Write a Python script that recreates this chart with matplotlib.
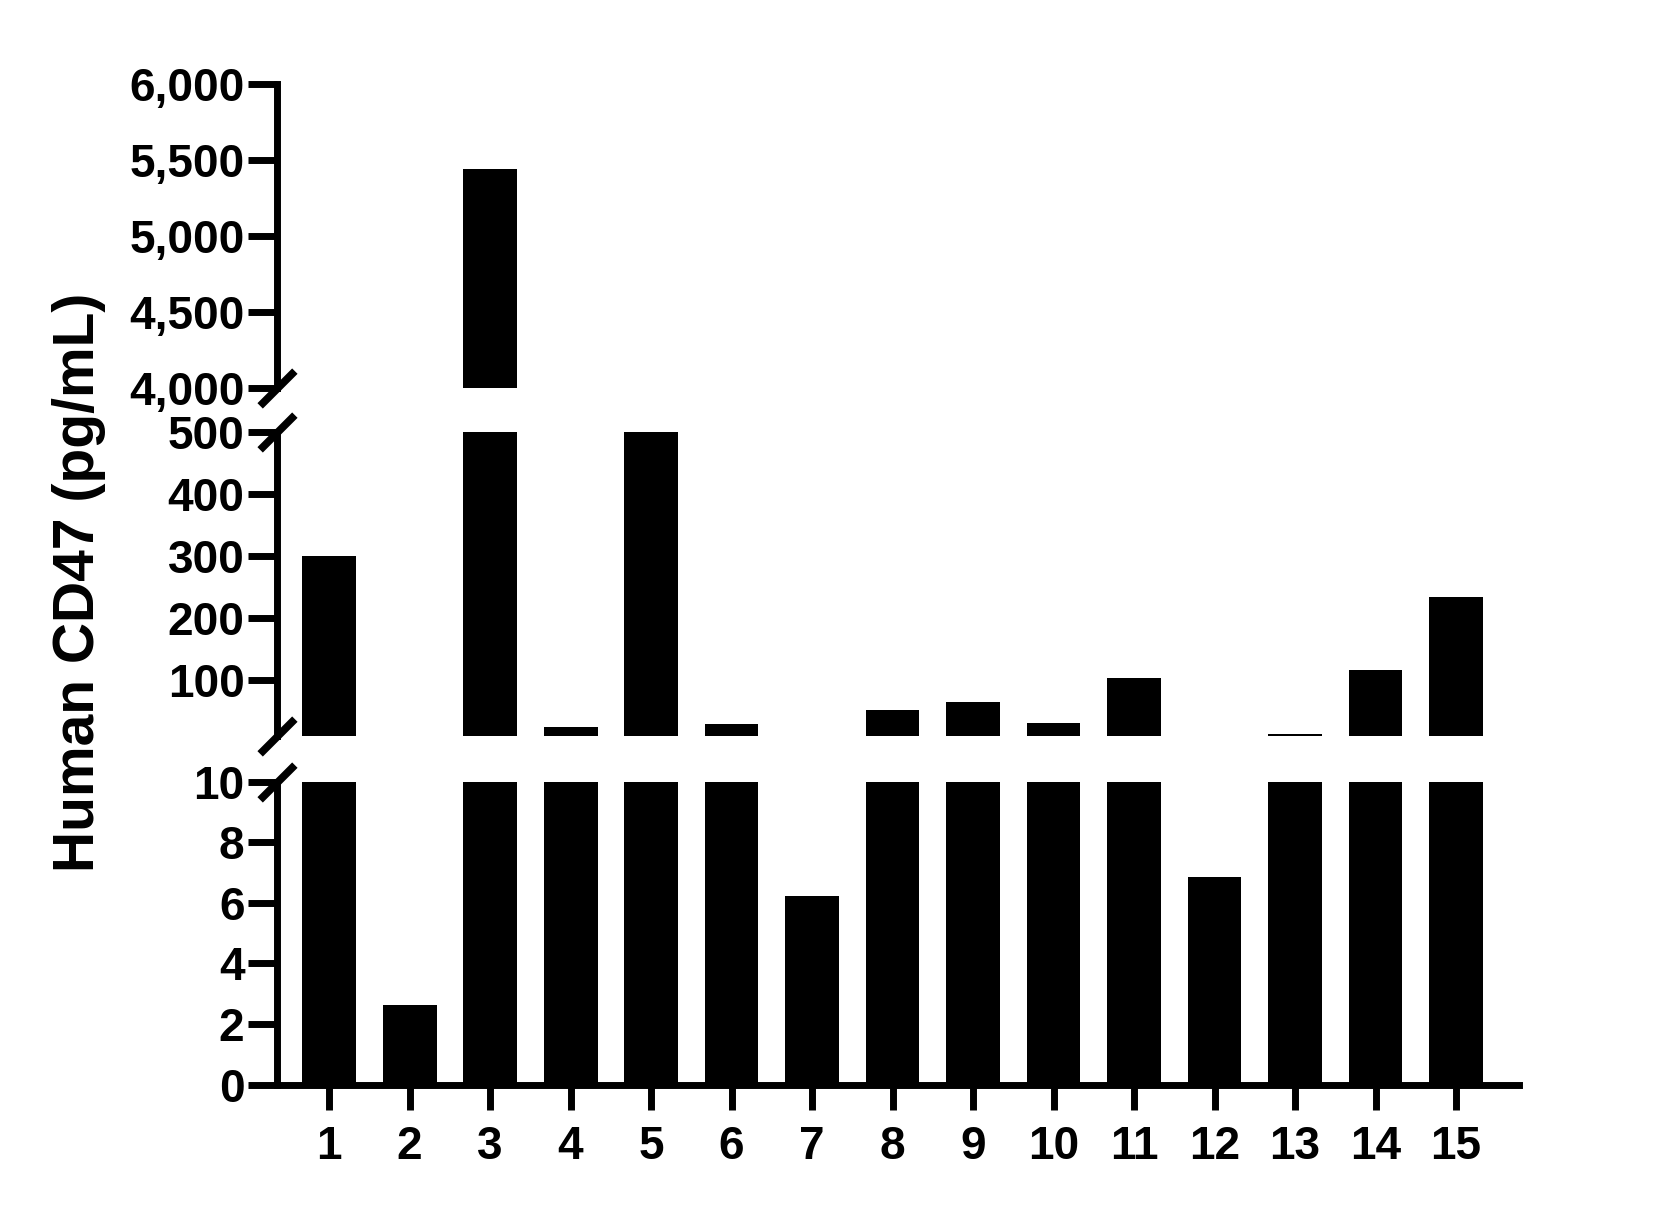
import matplotlib.pyplot as plt
import numpy as np
from matplotlib.ticker import FuncFormatter

plt.rcParams['font.family'] = ['Liberation Sans', 'DejaVu Sans']
plt.rcParams['font.weight'] = 'bold'

samples = [str(i) for i in range(1, 16)]
values = [300, 2.62, 5444, 25, 500, 29, 6.24, 53, 65, 31, 104, 6.87, 14, 117, 235]

upper_ticks = [4000, 4500, 5000, 5500, 6000]
middle_ticks = [100, 200, 300, 400, 500]
lower_ticks = [0, 2, 4, 6, 8, 10]

fig = plt.figure(figsize=(16.54, 12.06), dpi=100)
left, width = 0.1675, 0.751
ax_up = fig.add_axes([left, 0.6781, width, 0.2519])
ax_mid = fig.add_axes([left, 0.3895, width, 0.2519])
ax_low = fig.add_axes([left, 0.1007, width, 0.2511])

x = np.arange(1, 16)
lw = 5
for ax, lim, ticks in [(ax_up, (4000, 6000), upper_ticks),
                       (ax_mid, (10, 500), middle_ticks),
                       (ax_low, (0, 10), lower_ticks)]:
    ax.bar(x, values, width=0.67, color='black', bottom=0)
    ax.set_ylim(*lim)
    ax.set_xlim(0.354, 15.785)
    ax.set_yticks(ticks)
    for s in ['top', 'right', 'bottom']:
        ax.spines[s].set_visible(False)
    ax.spines['left'].set_linewidth(lw)
    ax.tick_params(axis='y', length=21, width=lw, pad=2.5, labelsize=33)
    for lab in ax.get_yticklabels():
        lab.set_fontweight('bold')

ax_up.yaxis.set_major_formatter(FuncFormatter(lambda v, p: f"{int(v):,}"))

for ax in (ax_up, ax_mid):
    ax.set_xticks([])

ax_low.spines['bottom'].set_visible(True)
ax_low.spines['bottom'].set_linewidth(lw)
ax_low.set_xticks(x)
ax_low.set_xticklabels(samples)
ax_low.tick_params(axis='x', length=18, width=lw, pad=11, labelsize=33)
for lab in ax_low.get_xticklabels():
    lab.set_fontweight('bold')

# break marks on the y axis
kw = dict(marker=[(-1, -1), (1, 1)], markersize=25, linestyle='none',
          mew=5.5, color='black', clip_on=False)
ax_up.plot([0], [0], transform=ax_up.transAxes, **kw)
ax_mid.plot([0], [1], transform=ax_mid.transAxes, **kw)
ax_mid.plot([0], [0], transform=ax_mid.transAxes, **kw)
ax_low.plot([0], [1], transform=ax_low.transAxes, **kw)

fig.text(0.048, 0.517, "Human CD47 (pg/mL)", rotation=90, fontsize=41,
         fontweight='bold', ha='center', va='center')

plt.savefig("out.png", dpi=100)
